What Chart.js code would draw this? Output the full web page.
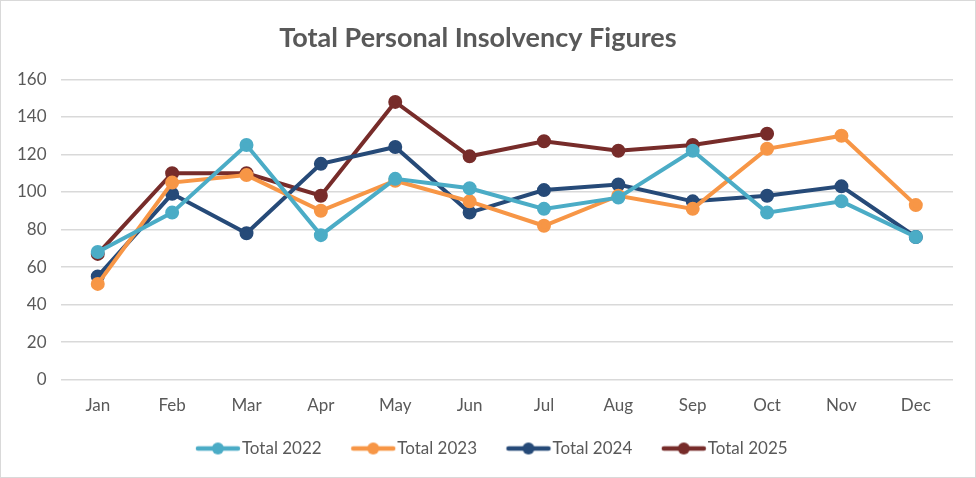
<!DOCTYPE html>
<html><head><meta charset="utf-8">
<script src="https://cdn.jsdelivr.net/npm/chart.js@4"></script>
<style>
html,body{margin:0;padding:0;background:#fff;}
#wrap{position:absolute;left:0;top:0;width:974px;height:476px;border:1px solid #d9d9d9;}
</style></head>
<body><div id="wrap"><canvas id="c" width="974" height="476"></canvas></div>
<script>
const months = ["Jan","Feb","Mar","Apr","May","Jun","Jul","Aug","Sep","Oct","Nov","Dec"];
const total2022 = [68, 89, 125, 77, 107, 102, 91, 97, 122, 89, 95, 76];
const total2023 = [51, 105, 109, 90, 106, 95, 82, 98, 91, 123, 130, 93];
const total2024 = [55, 99, 78, 115, 124, 89, 101, 104, 95, 98, 103, 76];
const total2025 = [67, 110, 110, 98, 148, 119, 127, 122, 125, 131, null, null];
const yTicks = [0, 20, 40, 60, 80, 100, 120, 140, 160];

const colors = ["#4BACC6", "#F79646", "#264A78", "#772C2A"];
const names = ["Total 2022", "Total 2023", "Total 2024", "Total 2025"];
const series = [total2022, total2023, total2024, total2025];

function legendIcon(color){
  const cv = document.createElement('canvas');
  cv.width = 80; cv.height = 16;
  const g = cv.getContext('2d');
  g.strokeStyle = color; g.lineWidth = 4.5; g.lineCap = 'round';
  g.beginPath(); g.moveTo(30,8); g.lineTo(70,8); g.stroke();
  g.fillStyle = color; g.beginPath(); g.arc(50,8,6,0,Math.PI*2); g.fill();
  return cv;
}

const legendShift = {
  id: 'legendShift',
  afterLayout(chart){ const l = chart.legend; if (l){ l.left += 7; l.right += 7; } }
};

const font = "Lato, 'Open Sans', sans-serif";
new Chart(document.getElementById('c'), {
  type: 'line',
  data: {
    labels: months,
    datasets: series.map((d,i)=>({
      label: names[i], data: d,
      borderColor: colors[i], backgroundColor: colors[i],
      pointBackgroundColor: colors[i], pointBorderColor: colors[i],
      borderWidth: 4, pointRadius: 5, pointHoverRadius: 5,
      tension: 0, spanGaps: false, fill: false,
      pointStyle: 'circle', legendIcon: legendIcon(colors[i])
    }))
  },
  plugins: [legendShift],
  options: {
    responsive: false, animation: false,
    layout: { padding: { left: 2, right: 22, top: 6, bottom: 10 } },
    plugins: {
      title: { display: true, text: "Total Personal Insolvency Figures", color: "#595959",
        font: { family: font, size: 27, weight: 'bold' }, padding: { top: 15, bottom: 25 } },
      legend: { position: 'bottom',
        labels: { usePointStyle: true, pointStyleWidth: 51, color: "#595959", font: { family: font, size: 17 }, padding: 16,
          generateLabels(chart){
            return chart.data.datasets.map((ds,i)=>({
              text: ds.label, fillStyle: ds.borderColor, strokeStyle: ds.borderColor,
              lineWidth: 0, pointStyle: ds.legendIcon, datasetIndex: i, hidden: false, fontColor: "#595959"
            }));
          } } },
      tooltip: { enabled: false }
    },
    scales: {
      x: { offset: true, grid: { display: false }, border: { display: false },
        ticks: { color: "#595959", font: { family: font, size: 17 }, padding: 8 } },
      y: { min: 0, max: 160, afterBuildTicks(ax){ ax.ticks = yTicks.map(v=>({value:v})); },
        grid: { color: "#d9d9d9", lineWidth: 1.5, drawTicks: false }, border: { display: false },
        ticks: { color: "#595959", font: { family: font, size: 17 }, padding: 14 } }
    }
  }
});
</script></body></html>
